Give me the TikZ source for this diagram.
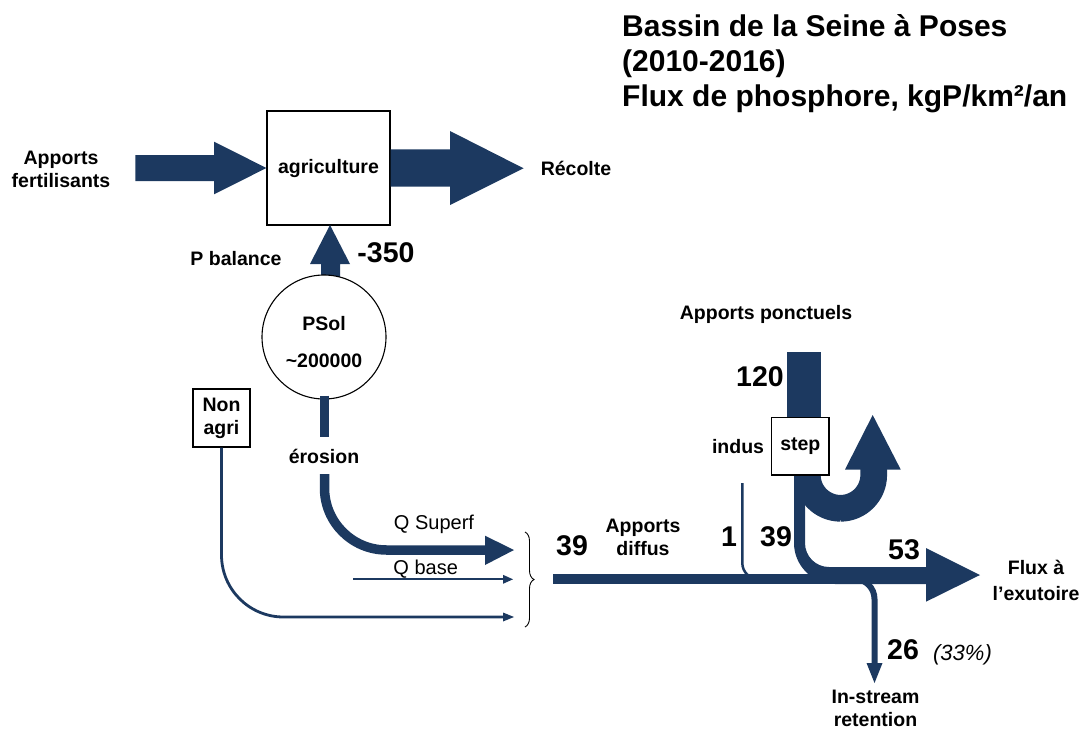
\documentclass[tikz,border=0pt]{standalone}
\usepackage{fontspec}
\setmainfont{Liberation Sans}
\usetikzlibrary{decorations.pathreplacing}
\definecolor{navy}{RGB}{28,57,96}
\newcommand\flab{\fontsize{19.5}{23}\selectfont\bfseries}
\newcommand\fnum{\fontsize{28.5}{32}\selectfont\bfseries}
\newcommand\ftitle{\fontsize{30}{34.7}\selectfont\bfseries}
\newcommand\fplain{\fontsize{20}{23}\selectfont}
\newcommand\fital{\fontsize{22}{24}\selectfont\itshape}
\tikzset{
  lbl/.style={font=\flab, align=center, inner sep=0pt},
  numl/.style={font=\fnum, inner sep=0pt},
  ttl/.style={font=\ftitle, inner sep=0pt, anchor=base west},
  plainl/.style={font=\fplain, inner sep=0pt},
  box/.style={draw=black, fill=white, line width=1.1pt, inner sep=0pt},
  flow/.style={navy},
}
\begin{document}
\begin{tikzpicture}[x=1pt,y=-1pt]
\useasboundingbox (0,0) rectangle (1082,731);
% title
\node[ttl] (t1) at (622,36.7) {Bassin de la Seine à Poses};
\node[ttl] (t2) at (622,71) {(2010-2016)};
\node[ttl] (t3) at (622,106) {Flux de phosphore, kgP/km²/an};

% agriculture block
\node[box, minimum width=123, minimum height=114, font=\flab] (agri) at (328.5,168) {agriculture};
\node[lbl] (fert) at (61,169) {Apports\\fertilisants};
\node[lbl] (recolte) at (576,168) {Récolte};
\coordinate (fertstart) at (135.4,168);
\coordinate (recend) at (523.6,168.3);
\fill[flow] (fertstart |- 0,155) -- (214,155) -- (214,141.7) -- (agri.west) -- (214,194.3) -- (214,181) -- (fertstart |- 0,181) -- cycle;
\fill[flow] (agri.east |- 0,149.3) -- (450,149.3) -- (450,131) -- (recend) -- (450,205) -- (450,186.7) -- (agri.east |- 0,186.7) -- cycle;

% PSol
\coordinate (uptip) at (330,225);
\fill[flow] (321,292) -- (321,264) -- (310,264) -- (uptip) -- (350,264) -- (340,264) -- (340,292) -- cycle;
\node[box, circle, minimum size=124] (psol) at (324,337) {};
\node[lbl] (psol1) at (324,323.3) {PSol};
\node[lbl] (psol2) at (324,361) {\textasciitilde200000};
\node[numl] (m350) at (386,253) {-350};
\node[lbl] (pbal) at (236,259) {P balance};

% erosion
\draw[flow, line width=9.5] (psol.south) ++(0.5,-4) -- (324.5,437);
\node[lbl] (eros) at (324,456) {érosion};
\coordinate (qsupend) at (514,550);
\draw[flow, line width=9.5, rounded corners=62] (324.5,474) -- (324.5,550) -- (486,550);
\fill[flow] (485,535.7) -- (qsupend) -- (485,565) -- cycle;
\node[plainl] (qsup) at (434,524) {Q Superf};

% Q base
\coordinate (qbs) at (353,579.3);
\coordinate (qbe) at (513,579.3);
\draw[flow, line width=2] (qbs) -- (504,579.3);
\fill[flow] (503,574.8) -- (qbe) -- (503,583.8) -- cycle;
\node[plainl] (qbase) at (425.7,569) {Q base};

% Non agri
\node[box, minimum width=57, minimum height=58, font=\flab, align=center] (nonagri) at (221.5,418) {Non\\agri};
\coordinate (naend) at (514,617);
\draw[flow, line width=2.8, rounded corners=62] (nonagri.south) -- (221.5,617) -- (504,617);
\fill[flow] (503,612.5) -- (naend) -- (503,621.5) -- cycle;

% brace
\coordinate (brt) at (525,532);
\coordinate (brb) at (525,627);
\draw[decorate, decoration={brace, amplitude=9pt}, line width=0.9pt] (brt) -- (brb);

\node[numl] (n39a) at (572,546) {39};
\node[lbl] (diffus) at (643,537) {Apports\\diffus};

% retention branch (under main line)
\coordinate (retend) at (874.5,683);
\draw[flow, line width=6, rounded corners=20] (845,579) -- (874.5,579) -- (874.5,664);
\fill[flow] (866.5,663) -- (retend) -- (882.5,663) -- cycle;

% main diffuse line
\coordinate (mainstart) at (553,579);
\draw[flow, line width=10] (mainstart) -- (840,579);

% indus
\draw[flow, line width=2.5, rounded corners=16] (742.3,483) -- (742.3,579) -- (775,579);

% step
\node[lbl] (ponct) at (766,314) {Apports ponctuels};
\fill[flow] (786.7,351.7) rectangle (821,420);
\node[numl] (n120) at (760,376.7) {120};
% U-turn
\draw[flow, line width=26.7, rounded corners=33.3] (807.3,472) -- (807.3,508.3) -- (873.7,508.3) -- (873.7,469);
\fill[flow] (845,469.5) -- (872.7,415) -- (900.7,469.5) -- cycle;
% 39 band merging into 53 arrow
\coordinate (outtip) at (980,575);
\fill[flow] (794,472) -- (794,543) .. controls (794,565.6) and (812.4,584) .. (835,584)
  -- (926,584) -- (926,601.7) -- (outtip) -- (926,548) -- (926,567) -- (829,567)
  .. controls (815.7,567) and (805,556.3) .. (805,543) -- (805,472) -- cycle;
\node[box, minimum width=57.3, minimum height=57.3, font=\flab] (step) at (800.3,446.3) {step};
\node[lbl] (indus) at (738,447) {indus};

\node[numl] (n1) at (729,536.7) {1};
\node[numl] (n39b) at (776,536.7) {39};
\node[numl] (n53) at (904,550) {53};
\node[lbl, font=\fontsize{19.5}{26}\selectfont\bfseries] (exut) at (1036,580) {Flux à\\l’exutoire};
\node[numl] (n26) at (903,650) {26};
\node[inner sep=0pt, font=\fital] (pct) at (962.5,655) {(33\%)};
\node[lbl] (instream) at (875.5,708.5) {In-stream\\retention};
\end{tikzpicture}
\end{document}
